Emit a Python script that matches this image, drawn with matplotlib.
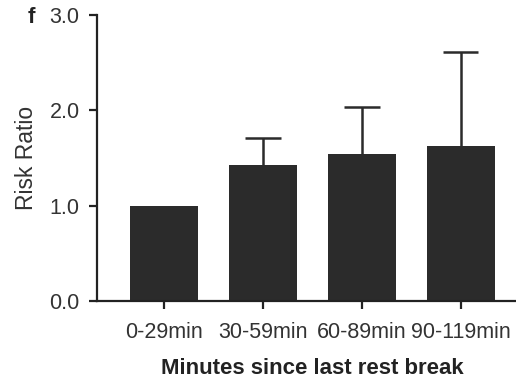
import numpy as np
import matplotlib
matplotlib.use("Agg")
import matplotlib.pyplot as plt

plt.rcParams["font.family"] = ["Liberation Sans", "DejaVu Sans"]

categories = ["0-29min", "30-59min", "60-89min", "90-119min"]
risk_ratio = [1.0, 1.43, 1.54, 1.63]
upper_ci = [1.0, 1.71, 2.03, 2.61]

dark = "#2b2b2b"

fig = plt.figure(figsize=(5.16, 3.79), dpi=100)
ax = fig.add_axes([0.188, 0.206, 0.812, 0.7546])

x = np.arange(len(categories))
ax.bar(x, risk_ratio, width=0.69, color=dark, zorder=2)

# only the upper arm of the error bar is shown (first group is the reference)
cap = 0.18
ax.vlines(x[1:], risk_ratio[1:], upper_ci[1:], color=dark, lw=1.8, zorder=1)
ax.hlines(upper_ci[1:], x[1:] - cap, x[1:] + cap, color=dark, lw=1.8, zorder=1)

ax.set_ylim(0, 3.0)
ax.set_xlim(-0.68, 3.56)
ax.set_yticks([0, 1, 2, 3])
ax.set_yticklabels(["0.0", "1.0", "2.0", "3.0"])
ax.set_xticks(x)
ax.set_xticklabels(categories)

for s in ["top", "right"]:
    ax.spines[s].set_visible(False)
for s in ["left", "bottom"]:
    ax.spines[s].set_linewidth(1.6)
    ax.spines[s].set_color("#222222")

ax.tick_params(axis="both", direction="out", length=6, width=1.6,
               color="#222222", labelsize=15.5, labelcolor="#333333", pad=6.5)
ax.tick_params(axis="x", pad=9)

ax.set_ylabel("Risk Ratio", fontsize=16.5, color="#333333", labelpad=8)
ax.set_xlabel("Minutes since last rest break", fontsize=16,
              fontweight="bold", color="#222222")
ax.xaxis.set_label_coords(0.513, -0.198)

fig.text(0.061, 0.955, "f", fontsize=16, fontweight="bold", color="#222222",
         va="center", ha="center")

fig.savefig("out.png", dpi=100)
